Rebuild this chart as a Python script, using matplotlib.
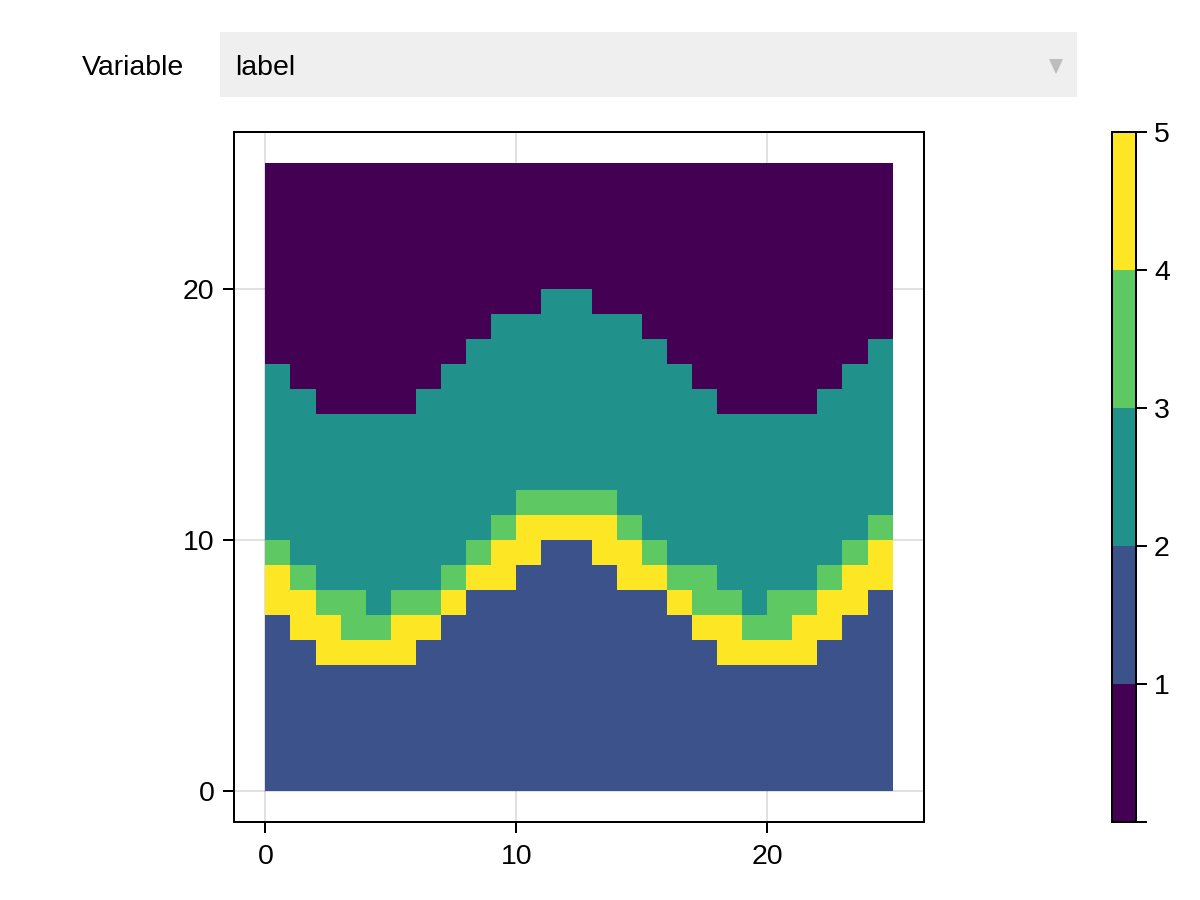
import matplotlib
matplotlib.use('Agg')
import matplotlib.pyplot as plt
import numpy as np
from matplotlib.colors import BoundaryNorm, ListedColormap
from matplotlib.patches import Polygon, Rectangle

plt.rcParams['font.family'] = ['Liberation Sans', 'DejaVu Sans']
plt.rcParams['font.size'] = 20.5

# top edge of each layer, one entry per column
blue_top = [7, 6, 5, 5, 5, 5, 6, 7, 8, 8, 9, 10, 10, 9, 8, 8, 7, 6, 5, 5, 5, 5, 6, 7, 8]
yellow_top = [9, 8, 7, 6, 6, 7, 7, 8, 9, 10, 11, 11, 11, 11, 10, 9, 8, 7, 7, 6, 6, 7, 8, 9, 10]
green_top = [10, 9, 8, 8, 7, 8, 8, 9, 10, 11, 12, 12, 12, 12, 11, 10, 9, 9, 8, 7, 8, 8, 9, 10, 11]
teal_top = [17, 16, 15, 15, 15, 15, 16, 17, 18, 19, 19, 20, 20, 19, 19, 18, 17, 16, 15, 15, 15, 15, 16, 17, 18]

colors = ['#440154', '#3b528b', '#21918c', '#5ec962', '#fde725']
levels = [0, 1, 2, 3, 4, 5]
level_labels = ['', '1', '2', '3', '4', '5']
ticks = [0, 10, 20]
n = 25

# purple fills the rest, then each layer is painted from the top down
labels = np.zeros((n, n), dtype=int)
for col in range(n):
    labels[:teal_top[col], col] = 2
    labels[:green_top[col], col] = 3
    labels[:yellow_top[col], col] = 4
    labels[:blue_top[col], col] = 1

W, H = 1200, 900
fig = plt.figure(figsize=(12, 9), dpi=100)

ax = fig.add_axes([234 / W, 1 - 822 / H, 690 / W, 690 / H])
cmap = ListedColormap(colors)
norm = BoundaryNorm(levels, cmap.N)
edges = np.arange(n + 1)
mesh = ax.pcolormesh(edges, edges, labels, cmap=cmap, norm=norm, antialiased=False)

ax.set_xlim(-1.25, 26.25)
ax.set_ylim(-1.25, 26.25)
ax.set_xticks(ticks)
ax.set_yticks(ticks)
ax.set_axisbelow(True)
ax.grid(True, color='black', alpha=0.12, linewidth=1.44)
ax.tick_params(length=8, width=1.44, pad=6)
ax.tick_params(axis='x', pad=7.5)
for spine in ax.spines.values():
    spine.set_linewidth(1.44)

cax = fig.add_axes([1112 / W, 1 - 822 / H, 24 / W, 690 / H])
cb = fig.colorbar(mesh, cax=cax, ticks=levels, spacing='proportional', drawedges=False)
cb.ax.set_yticklabels(level_labels)
cb.ax.tick_params(length=8, width=1.44, pad=5)
cb.outline.set_linewidth(1.44)

# menu row above the plot, in pixel coordinates
top = fig.add_axes([0, 0, 1, 1], zorder=5)
top.set_xlim(0, W)
top.set_ylim(H, 0)
top.axis('off')
top.patch.set_alpha(0)
top.add_patch(Rectangle((220, 32), 857, 65, facecolor='#efefef', edgecolor='none'))
top.add_patch(Polygon([(1049, 59), (1063, 59), (1056, 74)], facecolor='#bdbdbd', edgecolor='none'))
top.text(82, 65, 'Variable', va='center_baseline', ha='left', fontsize=20.5)
top.text(235.5, 65, 'label', va='center_baseline', ha='left', fontsize=20.5)

fig.savefig('out.png', dpi=100)
